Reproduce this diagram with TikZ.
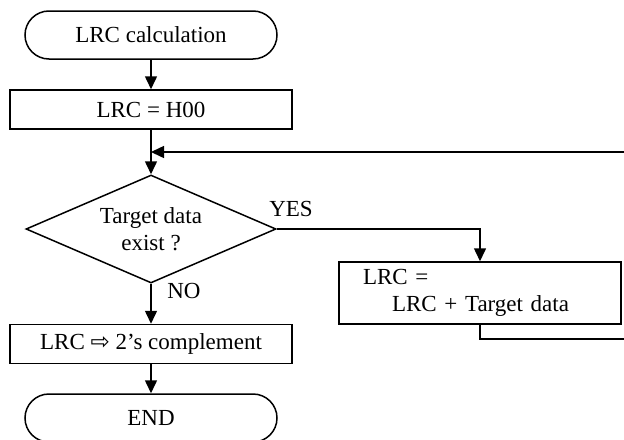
\documentclass[tikz,border=0pt]{standalone}
\usepackage{fontspec}
\setmainfont{Liberation Serif}
\newfontfamily\arrowfont{DejaVu Sans}
\usetikzlibrary{shapes.geometric,arrows.meta}

\begin{document}
\begin{tikzpicture}[x=0.5pt, y=-0.5pt,
      every node/.style={font=\fontsize{11.5}{13.5}\selectfont},
      term/.style={draw, line width=0.75pt, rounded corners=12pt,
                   minimum width=126pt, minimum height=24pt},
      proc/.style={draw, line width=0.75pt, minimum width=141pt,
                   minimum height=19.5pt},
      test/.style={draw, diamond, line width=0.75pt, aspect=2.3, inner sep=0pt,
                   minimum width=125pt, minimum height=54pt, align=center},
      arr/.style={-{Triangle[length=6.5pt,width=6pt]}, line width=0.75pt}
    ]
    \clip (0,0) rectangle (624,439);

    % Main column
    \node[term] (start) at (151,35)    {LRC calculation};
    \node[proc] (init)  at (151,109.5) {LRC = H00};
    \node[test] (check) at (151,229)   {Target data\\exist ?};
    \node[proc] (final) at (151,344)   {LRC {\arrowfont ⇨} 2’s complement};
    \node[term] (stop)  at (151,418)   {END};

    % Branch box
    \node[proc, minimum height=31pt, align=left, text width=117pt] (add) at (480,293)
         {LRC =\\\hspace*{14.5pt}LRC + Target data};

    % Branch labels
    \node (yes) at (291,209) {YES};
    \node (no)  at (184,291) {NO};

    % Loop back points
    \coordinate (join)  at (151,152);
    \coordinate (loopA) at (480,339);
    \coordinate (loopB) at (640,339);
    \coordinate (loopC) at (640,152);

    \draw[arr] (start) -- (init);
    \draw[arr] (init)  -- (check);
    \draw[arr] (check.east) -| (add.north);
    \draw[arr] (check) -- (final);
    \draw[arr] (final) -- (stop);
    \draw[arr] (add.south) -- (loopA) -- (loopB) -- (loopC) -- (join);

  \end{tikzpicture}
\end{document}
